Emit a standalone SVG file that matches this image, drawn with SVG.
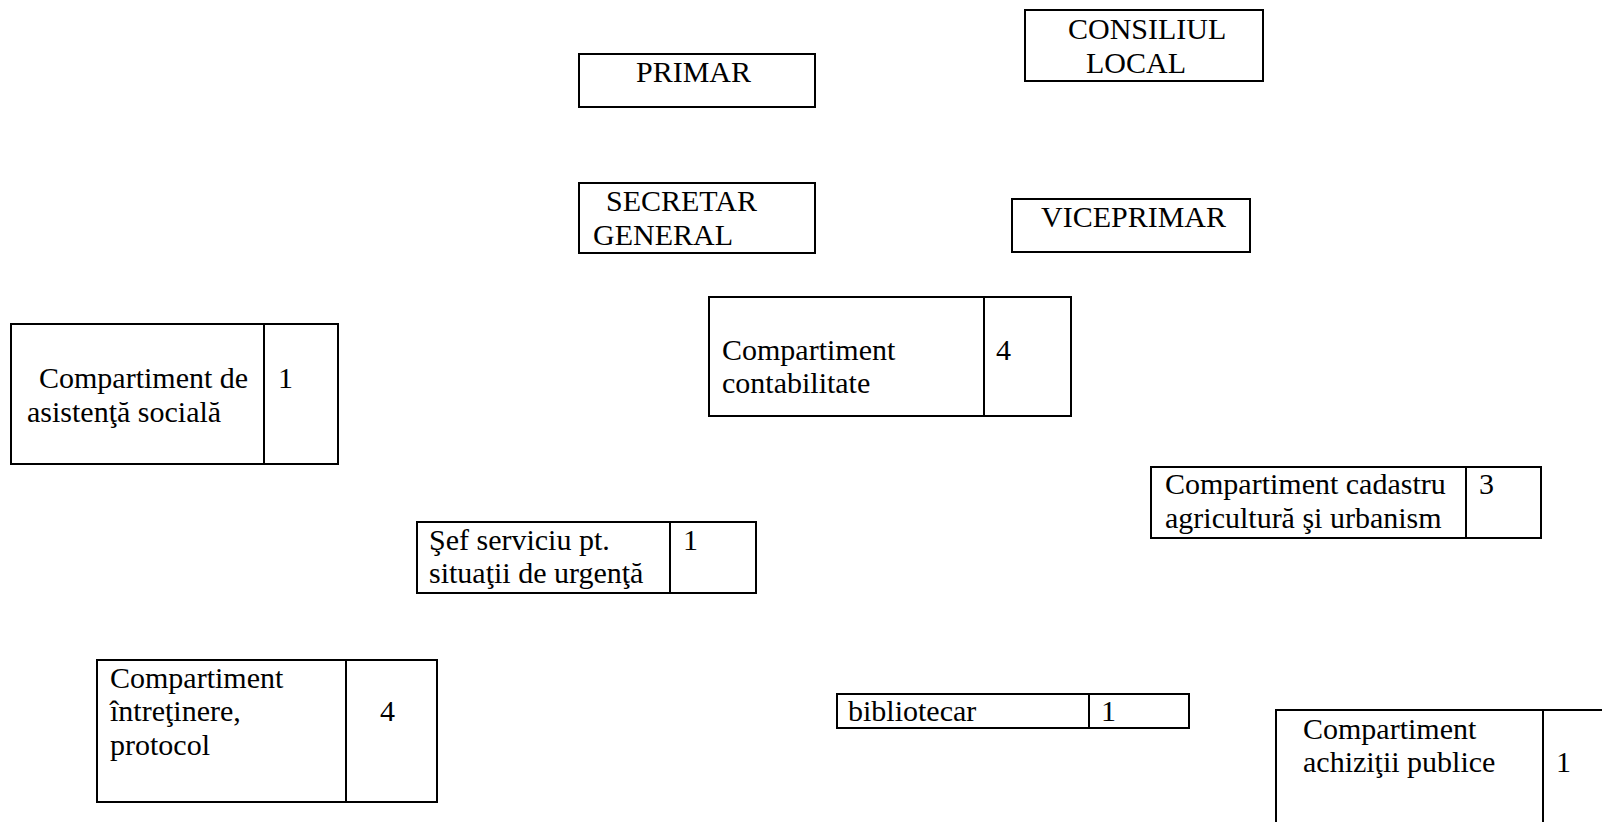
<svg xmlns="http://www.w3.org/2000/svg" width="1602" height="822" viewBox="0 0 1602 822">
<style>
.b{fill:#fff;stroke:#000;stroke-width:2}
.d{stroke:#000;stroke-width:2}
text{font-family:"Liberation Serif","Times New Roman",serif;font-size:30px;fill:#000}
</style>
<rect width="1602" height="822" fill="#fff"/>
<g id="connectors"></g>
<g id="primar"><rect class="b" x="579" y="54" width="236" height="53"/><text x="636" y="82">PRIMAR</text></g>
<g id="consiliul"><rect class="b" x="1025" y="10" width="238" height="71"/><text x="1068" y="39">CONSILIUL</text><text x="1086" y="73">LOCAL</text></g>
<g id="secretar"><rect class="b" x="579" y="183" width="236" height="70"/><text x="606" y="211">SECRETAR</text><text x="593" y="245">GENERAL</text></g>
<g id="viceprimar"><rect class="b" x="1012" y="199" width="238" height="53"/><text x="1041" y="227">VICEPRIMAR</text></g>
<g id="contabilitate"><rect class="b" x="709" y="297" width="362" height="119"/><line class="d" x1="984" y1="297" x2="984" y2="416"/><text x="722" y="360">Compartiment</text><text x="722" y="393">contabilitate</text><text x="996" y="360">4</text></g>
<g id="asistenta"><rect class="b" x="11" y="324" width="327" height="140"/><line class="d" x1="264" y1="324" x2="264" y2="464"/><text x="39" y="388">Compartiment de</text><text x="27" y="422">asistenţă socială</text><text x="278" y="388">1</text></g>
<g id="cadastru"><rect class="b" x="1151" y="467" width="390" height="71"/><line class="d" x1="1466" y1="467" x2="1466" y2="538"/><text x="1165" y="494">Compartiment cadastru</text><text x="1165" y="528">agricultură şi urbanism</text><text x="1479" y="494">3</text></g>
<g id="sef"><rect class="b" x="417" y="522" width="339" height="71"/><line class="d" x1="670" y1="522" x2="670" y2="593"/><text x="429" y="550">Şef serviciu pt.</text><text x="429" y="583">situaţii de urgenţă</text><text x="683" y="550">1</text></g>
<g id="intretinere"><rect class="b" x="97" y="660" width="340" height="142"/><line class="d" x1="346" y1="660" x2="346" y2="802"/><text x="110" y="688">Compartiment</text><text x="110" y="721">întreţinere,</text><text x="110" y="755">protocol</text><text x="380" y="721">4</text></g>
<g id="bibliotecar"><rect class="b" x="837" y="694" width="352" height="34"/><line class="d" x1="1089" y1="694" x2="1089" y2="728"/><text x="848" y="721">bibliotecar</text><text x="1101" y="721">1</text></g>
<g id="achizitii"><rect class="b" x="1276" y="710" width="340" height="130"/><line class="d" x1="1543" y1="710" x2="1543" y2="822"/><text x="1303" y="739">Compartiment</text><text x="1303" y="772">achiziţii publice</text><text x="1556" y="772">1</text></g>
</svg>
